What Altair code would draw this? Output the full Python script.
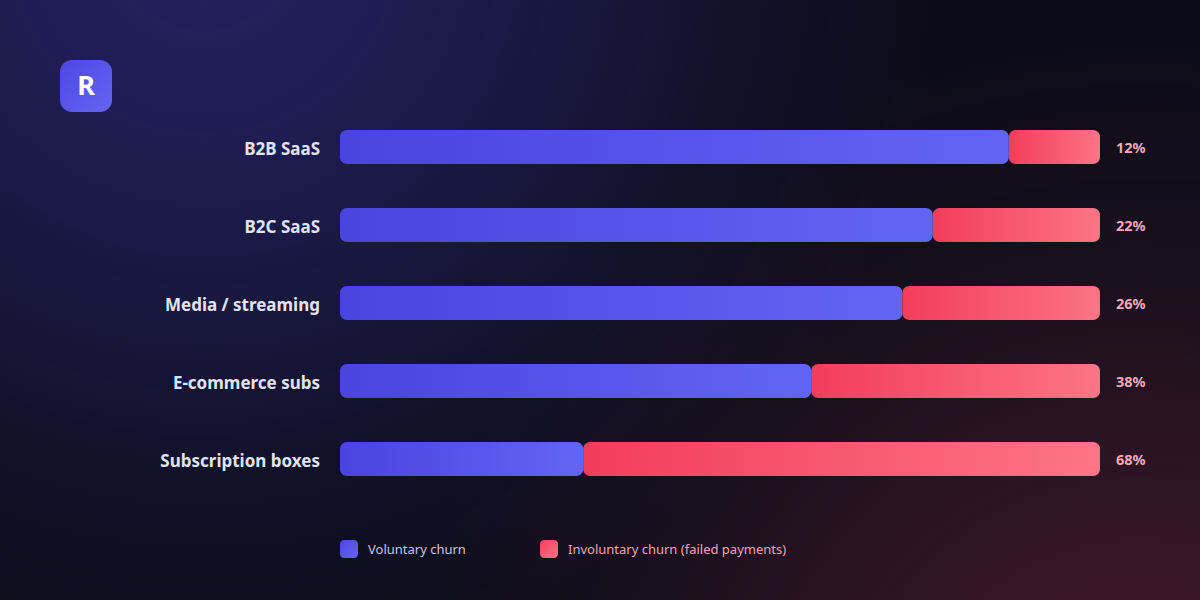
import altair as alt
import pandas as pd

categories = ["B2B SaaS", "B2C SaaS", "Media / streaming", "E-commerce subs", "Subscription boxes"]
voluntary = [88, 78, 74, 62, 32]
involuntary = [12, 22, 26, 38, 68]
series_names = ["Voluntary churn", "Involuntary churn (failed payments)"]

W, H = 1200, 600
FONT = "Noto Sans"

df = pd.DataFrame({
    "cat": categories,
    "vol": voluntary,
    "inv": involuntary,
})
df["total"] = df["vol"] + df["inv"]
df["label"] = [f"{v}%" for v in involuntary]

one = pd.DataFrame({"k": [0]})

xscale = alt.Scale(domain=[0, 100], range=[340, 1100])
yscale = alt.Scale(domain=categories, range=[108, 498], paddingInner=0.564, paddingOuter=0.282)


def lin(c0, c1, x2=1, y2=0):
    return {"gradient": "linear", "x1": 0, "y1": 0, "x2": x2, "y2": y2,
            "stops": [{"offset": 0, "color": c0}, {"offset": 1, "color": c1}]}


def rad(cx, cy, r, rgb, alphas):
    n = len(alphas) - 1
    return {"gradient": "radial", "x1": cx, "y1": cy, "r1": 0, "x2": cx, "y2": cy, "r2": r,
            "stops": [{"offset": i / n, "color": f"rgba({rgb},{a})"} for i, a in enumerate(alphas)]}


bg_pos = dict(x=alt.value(0), x2=alt.value(W), y=alt.value(0), y2=alt.value(H))

bg0 = alt.Chart(one).mark_rect(fill="#0c0c18").encode(**bg_pos)
bg1 = alt.Chart(one).mark_rect(fill=rad(0.17, 0.2, 0.62, "36,33,98", [0.95, 0.8, 0.5, 0.2, 0])).encode(**bg_pos)
bg2 = alt.Chart(one).mark_rect(fill=rad(0.95, 0.9, 0.62, "72,26,46", [0.95, 0.75, 0.45, 0.16, 0])).encode(**bg_pos)

logo = alt.Chart(one).mark_rect(cornerRadius=12, fill=lin("#4f46e5", "#6366f1", 1, 1)).encode(
    x=alt.value(60), x2=alt.value(112), y=alt.value(60), y2=alt.value(112))
logo_t = alt.Chart(one).mark_text(text="R", font=FONT, fontSize=27, fontWeight="bold", color="#ffffff",
                                  align="center", baseline="middle", dy=1).encode(x=alt.value(86), y=alt.value(86))

bars_vol = alt.Chart(df).mark_bar(cornerRadius=7, fill=lin("#4a43e0", "#6265f2")).encode(
    x=alt.X("zero:Q", scale=xscale, axis=None),
    x2="vol:Q",
    y=alt.Y("cat:N", scale=yscale, axis=None, sort=categories),
).transform_calculate(zero="0")

bars_inv = alt.Chart(df).mark_bar(cornerRadius=7, fill=lin("#f23d5c", "#fd7487")).encode(
    x=alt.X("vol:Q", scale=xscale, axis=None),
    x2="total:Q",
    y=alt.Y("cat:N", scale=yscale, axis=None, sort=categories),
)

cat_text = alt.Chart(df).mark_text(font=FONT, fontSize=17, fontWeight="bold", color="#e2e3f3",
                                   align="right", baseline="middle", dy=3).encode(
    x=alt.value(320), y=alt.Y("cat:N", scale=yscale, axis=None, sort=categories), text="cat:N")

pct_text = alt.Chart(df).mark_text(font=FONT, fontSize=14.5, fontWeight="bold", color="#f9a8b9",
                                   align="left", baseline="middle", dy=2).encode(
    x=alt.value(1116), y=alt.Y("cat:N", scale=yscale, axis=None, sort=categories), text="label:N")

leg1 = alt.Chart(pd.DataFrame({"s": [series_names[0]]})).mark_rect(
    cornerRadius=4, fill=lin("#4f46e5", "#6366f1", 1, 1)).encode(
    x=alt.value(340), x2=alt.value(358), y=alt.value(540), y2=alt.value(558))
leg1t = alt.Chart(pd.DataFrame({"s": [series_names[0]]})).mark_text(
    font=FONT, fontSize=13, color="#c3c4e2", align="left", baseline="middle", dy=1).encode(
    x=alt.value(368), y=alt.value(549), text="s:N")
leg2 = alt.Chart(pd.DataFrame({"s": [series_names[1]]})).mark_rect(
    cornerRadius=4, fill=lin("#f43f5e", "#fb7185", 1, 1)).encode(
    x=alt.value(540), x2=alt.value(558), y=alt.value(540), y2=alt.value(558))
leg2t = alt.Chart(pd.DataFrame({"s": [series_names[1]]})).mark_text(
    font=FONT, fontSize=13, color="#f2a3b6", align="left", baseline="middle", dy=1).encode(
    x=alt.value(568), y=alt.value(549), text="s:N")

chart = alt.layer(bg0, bg1, bg2, logo, logo_t, bars_vol, bars_inv, cat_text, pct_text,
                  leg1, leg1t, leg2, leg2t).properties(
    width=W, height=H, padding=0,
    autosize=alt.AutoSizeParams(type="fit", contains="padding"),
    background="#0c0c18",
).configure_view(stroke=None)

chart.save("out.html", embed_options={"renderer": "svg", "actions": False})
